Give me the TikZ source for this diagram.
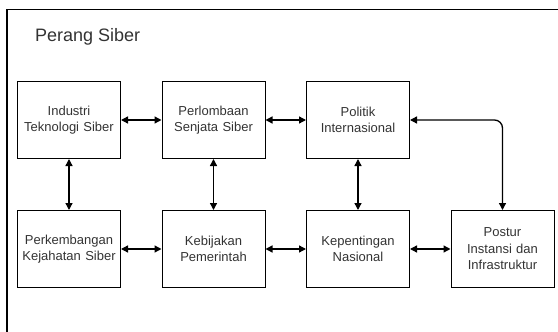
\documentclass[tikz,border=0pt]{standalone}
\usepackage{fontspec}
\setmainfont{Liberation Sans}
\usepackage{xcolor}
\usetikzlibrary{arrows.meta, positioning}
\definecolor{textgray}{RGB}{51,51,51}

\begin{document}
\begin{tikzpicture}[
    x=1pt, y=-1pt,
    node distance=51pt and 40.5pt,
    factor/.style={rectangle, draw, line width=1pt, minimum width=103pt, minimum height=77pt, text width=98pt, inner sep=2pt, align=center, font=\fontsize{13}{16.5}\selectfont, text=textgray},
    linkstyle/.style={{Triangle[length=7pt,width=7pt]}-{Triangle[length=7pt,width=7pt]}, line width=1.3pt},
    framestyle/.style={line width=1.3pt}
]
\useasboundingbox (0,0) rectangle (558,332);

% Frame (top and left edges only)
\draw[framestyle] (7,332) -- (7,9.5) -- (558,9.5);

% Title
\node[anchor=west, inner sep=0pt, font=\fontsize{18}{22}\selectfont, text=textgray] (title) at (35,37) {Perang Siber};

% Top row
\node[factor] (industri) at (69,120) {Industri\\Teknologi Siber};
\node[factor, right=of industri] (perlombaan) {Perlombaan\\Senjata Siber};
\node[factor, right=of perlombaan] (politik) {Politik\\Internasional};

% Bottom row
\node[factor, below=of industri] (perkembangan) {Perkembangan\\Kejahatan Siber};
\node[factor, below=of perlombaan] (kebijakan) {Kebijakan\\Pemerintah};
\node[factor, below=of politik] (kepentingan) {Kepentingan\\Nasional};
\node[factor, right=of kepentingan] (postur) {Postur\\Instansi dan\\Infrastruktur};

% Horizontal links
\draw[linkstyle] (industri) -- (perlombaan);
\draw[linkstyle] (perlombaan) -- (politik);
\draw[linkstyle] (perkembangan) -- (kebijakan);
\draw[linkstyle] (kebijakan) -- (kepentingan);
\draw[linkstyle] (kepentingan) -- (postur);

% Vertical links
\draw[linkstyle] (industri) -- (perkembangan);
\draw[linkstyle] (perlombaan) -- (kebijakan);
\draw[linkstyle] (politik) -- (kepentingan);

% Politik to Postur
\draw[linkstyle, rounded corners=8pt] (politik.east) -| (postur.north);

\end{tikzpicture}
\end{document}
